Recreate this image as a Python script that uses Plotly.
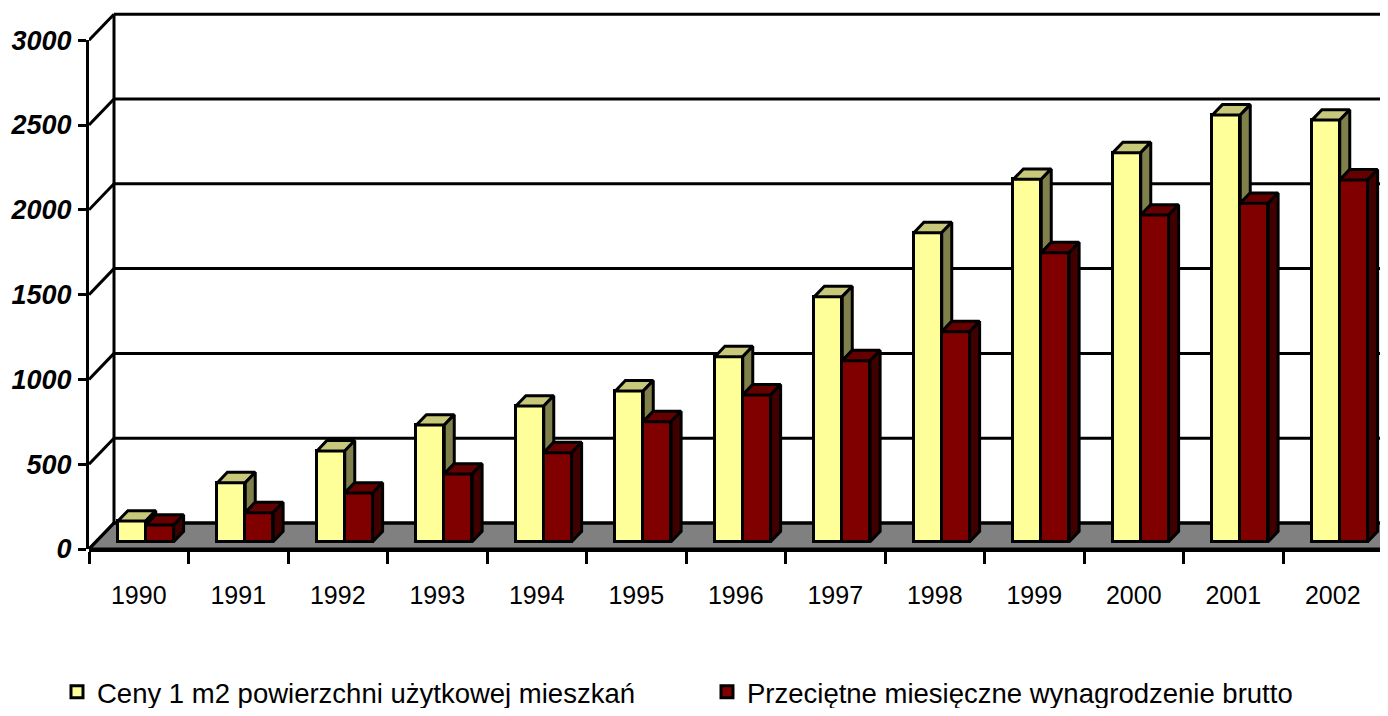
import plotly.graph_objects as go

# ---------------- data ----------------
years = ["1990", "1991", "1992", "1993", "1994", "1995", "1996",
         "1997", "1998", "1999", "2000", "2001", "2002"]
ceny_m2 = [122, 348, 535, 688, 800, 889, 1091, 1445, 1822, 2137, 2294, 2516, 2486]
wynagrodzenie = [98, 171, 287, 399, 525, 708, 865, 1067, 1238, 1704, 1926, 1995, 2133]
y_ticks = [0, 500, 1000, 1500, 2000, 2500, 3000]
series_names = ["Ceny 1 m2 powierzchni użytkowej mieszkań",
                "Przeciętne miesięczne wynagrodzenie brutto"]

# ---------------- styling / geometry ----------------
# (page body has an 8px default margin, figure is sized to fit the window)
W, H = 1380, 700
L, B = 81, 159
PLOT_W = W - L
PLOT_H = H - B
PX_PER_CAT = 99.5
PX_PER_VAL = 0.1696
X_MAX = PLOT_W / PX_PER_CAT
Y_MAX = PLOT_H / PX_PER_VAL

DX = 25 / PX_PER_CAT          # full depth shift (x, category units)
DY = 26 / PX_PER_VAL          # full depth shift (y, value units)
D0, DB = 0.28, 0.40           # bar front depth, bar depth
BAR_W = 0.28
BASE = D0 * DY

FAM = "Liberation Sans, Arial, sans-serif"
YEL, YEL_TOP, YEL_SIDE = "#FFFF99", "#C8C87A", "#80804C"
RED, RED_TOP, RED_SIDE = "#800000", "#660000", "#400000"
LW = 3

n = len(years)
x_yel = [i + 0.5 + D0 * DX - BAR_W / 2 for i in range(n)]
x_red = [i + 0.5 + D0 * DX + BAR_W / 2 for i in range(n)]


def faces(xc_list, vals, hide_vals=None):
    tx, ty, sx, sy = [], [], [], []
    bx, by = DB * DX, DB * DY
    for k, (xc, v) in enumerate(zip(xc_list, vals)):
        xl, xr = xc - BAR_W / 2, xc + BAR_W / 2
        top = BASE + v
        tx += [xl, xr, xr + bx, xl + bx, xl, None]
        ty += [top, top, top + by, top + by, top, None]
        low = BASE
        if hide_vals is not None:
            low = max(BASE, BASE + hide_vals[k])
        if top > low:
            sx += [xr, xr, xr + bx, xr + bx, xr, None]
            sy += [low, top, top + by, low + by, low, None]
    return tx, ty, sx, sy


fig = go.Figure()

fig.add_trace(go.Bar(x=x_yel, y=ceny_m2, base=BASE, width=BAR_W, name=series_names[0],
                     marker=dict(color=YEL, line=dict(color="black", width=LW)),
                     hoverinfo="skip"))
fig.add_trace(go.Bar(x=x_red, y=wynagrodzenie, base=BASE, width=BAR_W, name=series_names[1],
                     marker=dict(color=RED, line=dict(color="black", width=LW)),
                     hoverinfo="skip"))

ytx, yty, ysx, ysy = faces(x_yel, ceny_m2, hide_vals=wynagrodzenie)
rtx, rty, rsx, rsy = faces(x_red, wynagrodzenie)
for xs, ys, col in [(ytx, yty, YEL_TOP), (ysx, ysy, YEL_SIDE),
                    (rtx, rty, RED_TOP), (rsx, rsy, RED_SIDE)]:
    fig.add_trace(go.Scatter(x=xs, y=ys, mode="lines", fill="toself", fillcolor=col,
                             line=dict(color="black", width=LW), showlegend=False,
                             hoverinfo="skip"))

# invisible trace for the tick axis
fig.add_trace(go.Scatter(x=[0], y=[0], xaxis="x", yaxis="y2", mode="markers",
                         marker=dict(opacity=0), showlegend=False, hoverinfo="skip"))

shapes = []
# floor
fx0, fx1 = 0, n
shapes.append(dict(type="path", xref="x", yref="y", layer="below",
                   path=f"M {fx0},0 L {fx1},0 L {fx1 + DX},{DY} L {fx0 + DX},{DY} Z",
                   fillcolor="#808080", line=dict(color="black", width=LW)))
# back wall gridlines and left wall diagonals
for v in y_ticks:
    shapes.append(dict(type="line", xref="x", yref="y", layer="below",
                       x0=DX, y0=v + DY, x1=X_MAX + DX, y1=v + DY,
                       line=dict(color="black", width=LW)))
    shapes.append(dict(type="line", xref="x", yref="y", layer="below",
                       x0=0, y0=v, x1=DX, y1=v + DY,
                       line=dict(color="black", width=LW)))
shapes.append(dict(type="line", xref="x", yref="y", layer="below",
                   x0=DX, y0=DY, x1=DX, y1=y_ticks[-1] + DY,
                   line=dict(color="black", width=LW)))

fig.update_layout(
    width=W, height=H,
    margin=dict(l=L, r=0, t=0, b=B, pad=0, autoexpand=False),
    paper_bgcolor="white", plot_bgcolor="rgba(0,0,0,0)",
    barmode="overlay", bargap=0,
    shapes=shapes,
    showlegend=True,
    legend=dict(orientation="h", xref="container", yref="container",
                x=0.0355, xanchor="left", y=0.0229, yanchor="middle",
                font=dict(family=FAM, size=27.5, color="black"),
                entrywidth=605, entrywidthmode="pixels",
                bgcolor="rgba(0,0,0,0)", itemclick=False, itemdoubleclick=False),
    xaxis=dict(range=[0, X_MAX], showgrid=False, zeroline=False, automargin=False,
               showline=True, linecolor="black", linewidth=LW,
               tickmode="array", tickvals=[i + 0.5 for i in range(n)], ticktext=years,
               ticks="", ticklabelstandoff=22,
               minor=dict(tickmode="array", tickvals=list(range(n + 1)), ticks="outside",
                          ticklen=12, tickwidth=LW, tickcolor="black", showgrid=False),
               tickfont=dict(family=FAM, size=25, color="black"), fixedrange=True),
    yaxis=dict(range=[0, Y_MAX], visible=False, showgrid=False, zeroline=False,
               automargin=False, fixedrange=True),
    yaxis2=dict(domain=[0, y_ticks[-1] * PX_PER_VAL / PLOT_H], range=[0, y_ticks[-1]],
                anchor="x", showgrid=False, zeroline=False, automargin=False,
                showline=True, linecolor="black", linewidth=LW,
                tickmode="array", tickvals=y_ticks, ticks="outside", ticklen=8,
                tickwidth=LW, tickcolor="black", ticklabelstandoff=1,
                tickfont=dict(family=FAM, size=27, color="black",
                              weight="bold", style="italic"),
                fixedrange=True),
)

fig.write_html("out.html", config={"displayModeBar": False})
